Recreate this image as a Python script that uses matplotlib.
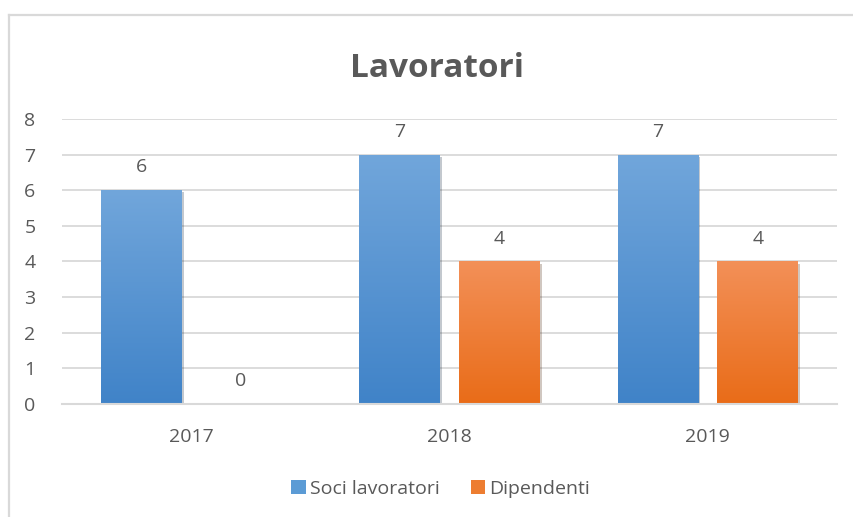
import numpy as np
import matplotlib.pyplot as plt
import matplotlib.patheffects as pe
from matplotlib.patches import Patch
from matplotlib.lines import Line2D

# Data
years = ["2017", "2018", "2019"]
soci = [6, 7, 7]
dipendenti = [0, 4, 4]

plt.rcParams['font.family'] = ['Open Sans', 'DejaVu Sans']
text_col = "#595959"
grid_col = "#d9d9d9"

fig = plt.figure(figsize=(8.54, 5.17), dpi=100)
ax = fig.add_axes([0.0726, 0.2186, 0.9075, 0.5512])

x = np.arange(len(years))
width = 0.313
offset = 0.193

# gradient colours (top, bottom)
blue_grad = ("#71a6db", "#4083c8")
orange_grad = ("#f39058", "#e96c18")


def gradient_bars(xpos, vals, grad):
    bars = ax.bar(xpos, vals, width, color=grad[1], zorder=3,
                  path_effects=[pe.SimplePatchShadow(offset=(1.5, -1.5), alpha=0.25), pe.Normal()])
    top = np.array(plt.matplotlib.colors.to_rgb(grad[0]))
    bot = np.array(plt.matplotlib.colors.to_rgb(grad[1]))
    t = np.linspace(0, 1, 256)[:, None]
    img = (top * (1 - t) + bot * t)[:, None, :]
    for b in bars:
        if b.get_height() <= 0:
            continue
        im = ax.imshow(img, extent=[b.get_x(), b.get_x() + b.get_width(), 0, b.get_height()],
                       aspect='auto', zorder=4, interpolation='bilinear')
        im.set_clip_path(b)
    return bars


b1 = gradient_bars(x - offset, soci, blue_grad)
b2 = gradient_bars(x + offset, dipendenti, orange_grad)

for bars, vals in ((b1, soci), (b2, dipendenti)):
    for b, v in zip(bars, vals):
        ax.annotate(str(v), (b.get_x() + b.get_width() / 2, v), xytext=(0, 10),
                    textcoords='offset points', ha='center', va='bottom',
                    fontsize=14, color=text_col)

ax.set_xlim(-0.5, 2.5)
ax.set_ylim(0, 8)
ax.set_yticks(range(0, 9))
ax.set_xticks(x)
ax.set_xticklabels(years)
ax.tick_params(axis='both', length=0, labelsize=14, labelcolor=text_col)
ax.tick_params(axis='y', pad=19)
ax.tick_params(axis='x', pad=17)
ax.yaxis.grid(True, color=grid_col, linewidth=1.3, zorder=0)
ax.set_axisbelow(True)
for s in ['top', 'right', 'left']:
    ax.spines[s].set_visible(False)
ax.spines['bottom'].set_color(grid_col)
ax.spines['bottom'].set_linewidth(1.5)
ax.spines['bottom'].set_zorder(5)

fig.text(0.512, 0.868, "Lavoratori", ha='center', va='center', fontsize=24,
         fontweight='bold', color=text_col)

handles = [Patch(facecolor="#5b9bd5", label="Soci lavoratori"),
           Patch(facecolor="#ed7d31", label="Dipendenti")]
fig.legend(handles=handles, loc='center', bbox_to_anchor=(0.516, 0.054), ncol=2,
           frameon=False, fontsize=14, labelcolor=text_col, handlelength=0.75,
           handleheight=0.75, handletextpad=0.2, columnspacing=1.6)

# outer chart border (left and top visible)
fig.add_artist(Line2D([9.5 / 854, 9.5 / 854], [0, 1 - 14.5 / 517], color=grid_col, lw=1.6,
                      transform=fig.transFigure))
fig.add_artist(Line2D([9.5 / 854, 853 / 854], [1 - 14.5 / 517, 1 - 14.5 / 517], color=grid_col,
                      lw=1.6, transform=fig.transFigure))

fig.savefig("out.png", dpi=100)
